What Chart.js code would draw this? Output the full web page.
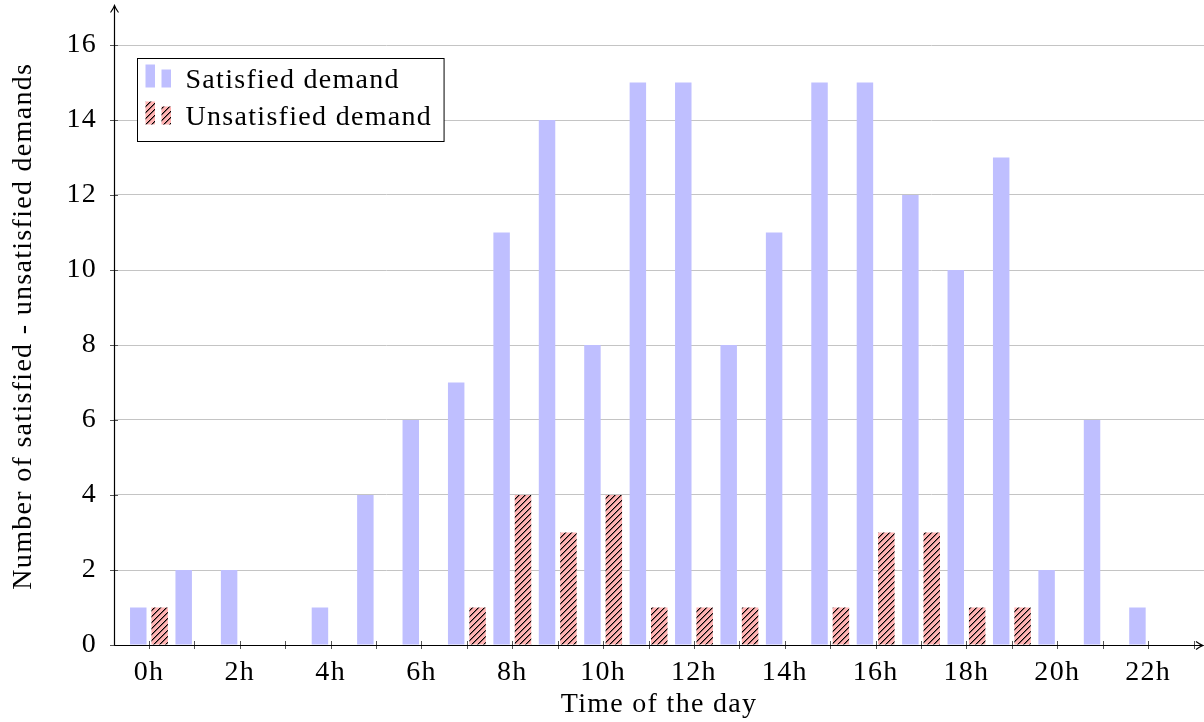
<!DOCTYPE html>
<html>
<head>
<meta charset="utf-8">
<script src="https://cdn.jsdelivr.net/npm/chart.js@4/dist/chart.umd.min.js"></script>
<style>
html,body{margin:0;padding:0;background:#fff;}
#wrap{width:1204px;height:722px;}
</style>
</head>
<body>
<div id="wrap"><canvas id="c" width="1204" height="722"></canvas></div>
<script>
// ---- data ----
const hours = [0,1,2,3,4,5,6,7,8,9,10,11,12,13,14,15,16,17,18,19,20,21,22,23];
const hourLabels = ['0h','1h','2h','3h','4h','5h','6h','7h','8h','9h','10h','11h','12h','13h','14h','15h','16h','17h','18h','19h','20h','21h','22h','23h'];
const satisfied   = [1,2,2,0,1,4,6,7,11,14,8,15,15,8,11,15,15,12,10,13,2,6,1,0];
const unsatisfied = [1,0,0,0,0,0,0,1,4,3,4,1,1,1,0,1,3,3,1,1,0,0,0,0];
const yTicks = [0,2,4,6,8,10,12,14,16];
const seriesNames = ['Satisfied demand','Unsatisfied demand'];
const xTitle = 'Time of the day';
const yTitle = 'Number of satisfied - unsatisfied demands';

const F = "'Liberation Serif', 'DejaVu Serif', serif";
const FS = 28;
const LS = '1.3px';
const BLUE = '#bfbfff';
const PINK = '#ffb3b3';

const canvas = document.getElementById('c');
const mainCtx = canvas.getContext('2d');

function makeHatch(){
  const s = 6;
  const c = document.createElement('canvas');
  c.width = s; c.height = s;
  const g = c.getContext('2d');
  g.fillStyle = PINK; g.fillRect(0,0,s,s);
  for (let i = 0; i < s; i++){
    g.fillStyle = '#000';
    g.fillRect(i, s - 1 - i, 1, 1);
    g.fillStyle = 'rgba(0,0,0,0.45)';
    g.fillRect((i + 1) % s, s - 1 - i, 1, 1);
  }
  return mainCtx.createPattern(c,'repeat');
}
const hatch = makeHatch();

const spacing = {
  id:'spacing',
  beforeDraw(chart){ try { chart.ctx.letterSpacing = LS; } catch(e){} },
  beforeLayout(chart){ try { chart.ctx.letterSpacing = LS; } catch(e){} }
};

const decor = {
  id:'decor',
  afterDraw(chart){
    const {ctx, chartArea:a, scales:{x, y}} = chart;
    ctx.save();
    // tick marks
    ctx.strokeStyle = '#555'; ctx.lineWidth = 1;
    ctx.beginPath();
    hours.forEach(h=>{
      const px = Math.round(x.getPixelForValue(h)) + 0.5;
      ctx.moveTo(px, a.bottom - 4); ctx.lineTo(px, a.bottom + 4);
    });
    yTicks.forEach(v=>{
      const py = Math.round(y.getPixelForValue(v)) + 0.5;
      ctx.moveTo(a.left - 4, py); ctx.lineTo(a.left + 4, py);
    });
    ctx.stroke();
    // axes with arrows
    ctx.strokeStyle = '#000'; ctx.lineWidth = 1.2;
    const ax = Math.round(a.left) + 0.5, ay = Math.round(a.bottom) + 0.5;
    const tipX = a.right - 1, tipY = a.top - 2;
    ctx.beginPath();
    ctx.moveTo(ax, ay); ctx.lineTo(tipX, ay);
    ctx.moveTo(ax, ay); ctx.lineTo(ax, tipY);
    ctx.stroke();
    ctx.lineWidth = 1.1;
    ctx.beginPath();
    ctx.moveTo(tipX - 7, ay - 4); ctx.quadraticCurveTo(tipX - 3, ay - 1, tipX, ay); ctx.quadraticCurveTo(tipX - 3, ay + 1, tipX - 7, ay + 4);
    ctx.moveTo(ax - 4, tipY + 7); ctx.quadraticCurveTo(ax - 1, tipY + 3, ax, tipY); ctx.quadraticCurveTo(ax + 1, tipY + 3, ax + 4, tipY + 7);
    ctx.stroke();
    // legend
    try { ctx.letterSpacing = LS; } catch(e){}
    ctx.font = FS + 'px ' + F;
    const L = Math.round(a.left) + 23.5, T = 58.5;
    const tw = Math.max(...seriesNames.map(s => ctx.measureText(s).width));
    const W = 48 + tw + 12, H = 83;
    ctx.fillStyle = '#fff'; ctx.fillRect(L, T, W, H);
    ctx.strokeStyle = '#000'; ctx.lineWidth = 1; ctx.strokeRect(L, T, W, H);
    const fills = [BLUE, hatch];
    seriesNames.forEach((name, i)=>{
      const cy = T + 22 + i * 37;
      ctx.fillStyle = fills[i];
      ctx.fillRect(L + 8, cy - 16, 9.5, 23);
      ctx.fillRect(L + 24, cy - 11, 9.5, 18);
      ctx.fillStyle = '#000';
      ctx.textBaseline = 'middle'; ctx.textAlign = 'left';
      ctx.fillText(name, L + 48, cy);
    });
    ctx.restore();
  }
};

new Chart(canvas, {
  type:'bar',
  data:{
    datasets:[
      {label:seriesNames[0], data:hours.map((h,i)=>({x:h, y:satisfied[i]})), backgroundColor:BLUE, borderWidth:0},
      {label:seriesNames[1], data:hours.map((h,i)=>({x:h, y:unsatisfied[i]})), backgroundColor:hatch, borderWidth:0}
    ]
  },
  options:{
    responsive:false, animation:false, devicePixelRatio:1,
    categoryPercentage:0.942, barPercentage:0.77,
    layout:{padding:{top:7.5, right:0, left:0, bottom:0}},
    plugins:{legend:{display:false}, tooltip:{enabled:false}},
    scales:{
      x:{
        type:'linear', min:-0.77, max:23.23, offset:false,
        afterBuildTicks:s=>{ s.ticks = hours.map(v=>({value:v})); },
        afterFit:s=>{ s.height = 77; s.paddingLeft = 0; s.paddingRight = 0; },
        grid:{display:false, drawTicks:false}, border:{display:false},
        ticks:{autoSkip:false, maxRotation:0, minRotation:0, padding:11, color:'#000',
               font:{family:F, size:FS},
               callback:v => (v % 2 === 0 ? hourLabels[v] : '')},
        title:{display:true, text:xTitle, color:'#000', font:{family:F, size:FS}, padding:{top:0, bottom:1}}
      },
      y:{
        min:0, max:17,
        afterBuildTicks:s=>{ s.ticks = yTicks.map(v=>({value:v})); },
        afterFit:s=>{ s.width = 114; s.paddingTop = 0; s.paddingBottom = 0; },
        grid:{color:'#c4c4c4', lineWidth:1, drawTicks:false}, border:{display:false},
        ticks:{padding:17, color:'#000', font:{family:F, size:FS}},
        title:{display:true, text:yTitle, color:'#000', font:{family:F, size:FS}, padding:{top:7, bottom:0}}
      }
    }
  },
  plugins:[spacing, decor]
});
</script>
</body>
</html>
